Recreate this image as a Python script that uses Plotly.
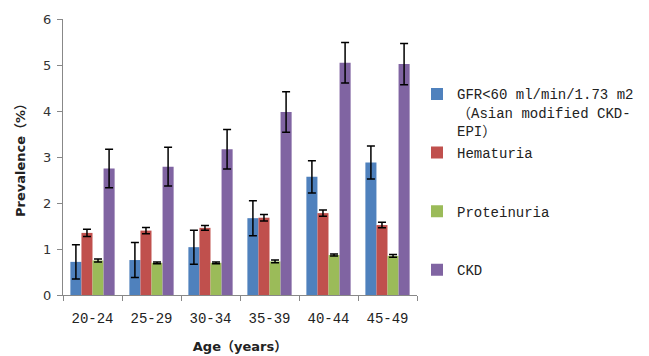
import plotly.graph_objects as go

categories = ["20-24", "25-29", "30-34", "35-39", "40-44", "45-49"]

gfr = [0.72, 0.76, 1.04, 1.67, 2.57, 2.88]
gfr_err = [0.37, 0.38, 0.37, 0.38, 0.35, 0.36]
hematuria = [1.35, 1.40, 1.46, 1.68, 1.78, 1.52]
hematuria_err = [0.08, 0.07, 0.05, 0.07, 0.07, 0.06]
proteinuria = [0.75, 0.70, 0.70, 0.73, 0.87, 0.85]
proteinuria_err = [0.03, 0.02, 0.02, 0.03, 0.02, 0.03]
ckd = [2.75, 2.79, 3.17, 3.98, 5.05, 5.02]
ckd_err = [0.42, 0.42, 0.43, 0.44, 0.44, 0.45]

series_names = [
    "GFR&lt;60 ml/min/1.73 m2<br>（Asian modified CKD-<br>EPI）",
    "Hematuria<br> <br> ",
    "Proteinuria<br> <br> ",
    "CKD<br> <br> ",
]
series_values = [gfr, hematuria, proteinuria, ckd]
series_errors = [gfr_err, hematuria_err, proteinuria_err, ckd_err]
colors = ["#4F81BD", "#C0504D", "#9BBB59", "#8064A2"]

mono = "Liberation Mono, Noto Sans CJK SC, monospace"
titlefont = "DejaVu Sans, Noto Sans CJK SC"

fig = go.Figure()
for i, (name, vals, errs, col) in enumerate(zip(series_names, series_values, series_errors, colors)):
    fig.add_trace(go.Bar(
        x=categories, y=vals, name=name,
        marker=dict(color=col, line=dict(width=0)),
        error_y=dict(type="data", array=errs, visible=True, color="#000000",
                     thickness=1.5, width=4),
        legendgroup=f"g{i}",
    ))

fig.update_layout(
    width=641, height=348,
    margin=dict(l=55, r=232, t=11, b=61, autoexpand=False),
    paper_bgcolor="white", plot_bgcolor="white",
    barmode="group", bargap=0.25, bargroupgap=0,
    showlegend=True,
    legend=dict(
        x=1.0, xanchor="left", y=0.785, yanchor="top",
        font=dict(family=mono, size=14, color="#222222"),
        valign="top", tracegroupgap=1, itemwidth=30,
        bgcolor="rgba(0,0,0,0)",
    ),
    xaxis=dict(
        showline=True, linecolor="#888888", linewidth=1,
        ticks="outside", tickson="boundaries", ticklen=5, tickcolor="#888888",
        tickfont=dict(family=mono, size=14, color="#222222"),
        ticklabelstandoff=10,
        title=dict(text="<b>Age（years）</b>", font=dict(family=titlefont, size=13, color="#222222"), standoff=16),
        showgrid=False, zeroline=False, automargin=False,
    ),
    yaxis=dict(
        range=[0, 6], dtick=1,
        showline=True, linecolor="#888888", linewidth=1,
        ticks="outside", ticklen=5, tickcolor="#888888",
        tickfont=dict(family="DejaVu Sans, Arial", size=13, color="#333333"),
        ticklabelstandoff=3,
        title=dict(text="<b>Prevalence（%）</b>", font=dict(family=titlefont, size=13, color="#222222"), standoff=14),
        showgrid=False, zeroline=False, automargin=False,
    ),
)

fig.write_html("out.html")
